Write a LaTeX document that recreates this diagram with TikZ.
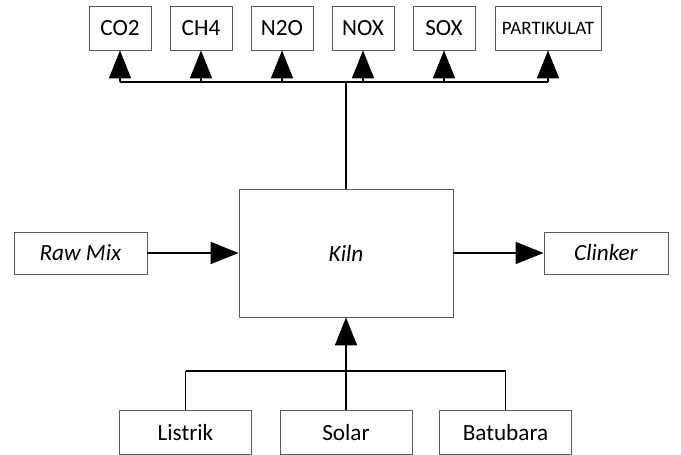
\documentclass[tikz,border=0pt]{standalone}
\usepackage{fontspec}
\setmainfont{Carlito}
\usetikzlibrary{arrows.meta}

\tikzset{
  box/.style={draw=black!65, line width=0.6pt, fill=white, inner sep=0pt,
    minimum width=1.55cm, minimum height=1.1cm, font=\fontsize{16.5}{19}\selectfont},
  wide/.style={box, minimum width=3.3cm},
  flow/.style={line width=1.2pt, -{Triangle[length=0.7cm,width=0.55cm]}},
  link/.style={line width=1.2pt},
}

\begin{document}
\begin{tikzpicture}
\useasboundingbox (0,0) rectangle (17.025,11.375);

% emissions
\node[box] (co2) at (3.0,10.675) {CO2};
\node[box] (ch4) at (5.025,10.675) {CH4};
\node[box] (n2o) at (7.05,10.675) {N2O};
\node[box] (nox) at (9.075,10.675) {NOX};
\node[box] (sox) at (11.1,10.675) {SOX};
\node[box, minimum width=2.65cm, font=\fontsize{13.5}{15}\selectfont] (part) at (13.7,10.675) {PARTIKULAT};

% process
\node[box, minimum width=5.35cm, minimum height=3.2cm] (kiln) at (8.65,5.05) {\textit{Kiln}};
\node[box, minimum width=3.325cm, minimum height=1.05cm] (rawmix) at (2.0125,5.05) {\textit{Raw Mix}};
\node[box, minimum width=3.1cm, minimum height=1.05cm] (clinker) at (15.15,5.05) {\textit{Clinker}};

% energy
\node[wide] (listrik) at (4.6375,0.5625) {Listrik};
\node[wide] (solar) at (8.65,0.5625) {Solar};
\node[wide] (batubara) at (12.6375,0.5625) {Batubara};

\coordinate (top) at (8.65,9.325);
\coordinate (bottom) at (8.65,2.1);

\draw[link] (co2 |- top) -- (part |- top);
\foreach \n in {co2,ch4,n2o,nox,sox,part}
  \draw[flow] (\n |- top) -- (\n.south);
\draw[link] (kiln.north) -- (top);

\draw[flow] (rawmix.east) -- (kiln.west);
\draw[flow] (kiln.east) -- (clinker.west);

\draw[link] (listrik |- bottom) -- (batubara |- bottom);
\foreach \n in {listrik,solar,batubara}
  \draw[link] (\n.north) -- (\n |- bottom);
\draw[flow] (bottom) -- (kiln.south);
\end{tikzpicture}
\end{document}
